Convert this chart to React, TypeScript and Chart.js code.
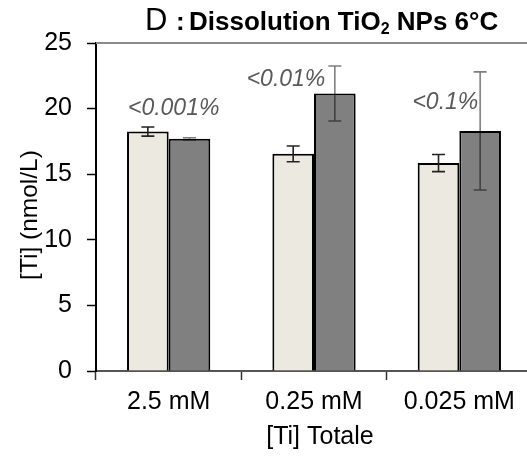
import React, { useEffect, useRef } from "react";
import { Chart, registerables } from "chart.js";

Chart.register(...registerables);

// ---- data ----
const categories = ["2.5 mM", "0.25 mM", "0.025 mM"];
const lightValues = [18.25, 16.55, 15.85];
const lightErrors = [0.35, 0.6, 0.65];
const darkValues = [17.7, 21.15, 18.3];
const darkErrors = [0.08, 2.1, 4.5];
const yTicks = [0, 5, 10, 15, 20, 25];
const annotations = ["<0.001%", "<0.01%", "<0.1%"];
const yTitle = "[Ti] (nmol/L)";
const xTitle = "[Ti] Totale";

const FONT = "'Liberation Sans', Arial, sans-serif";

// label anchors (layout): pixel x offset from category centre, y in value units (baseline)
const annotDx = [5, -28, -14];
const annotY = [19.55, 21.7, 20.0];

const errorBarPlugin = {
  id: "errorBars",
  afterDatasetsDraw(chart: any) {
    const ctx = chart.ctx;
    const y = chart.scales.y;
    const errs = [lightErrors, darkErrors];
    const vals = [lightValues, darkValues];
    const colors = ["#222222", "rgba(0,0,0,0.5)"];
    ctx.save();
    for (let d = 0; d < 2; d++) {
      const meta = chart.getDatasetMeta(d);
      meta.data.forEach((bar: any, i: number) => {
        const x = bar.x;
        const top = y.getPixelForValue(vals[d][i] + errs[d][i]);
        const bot = y.getPixelForValue(vals[d][i] - errs[d][i]);
        ctx.strokeStyle = colors[d];
        ctx.lineWidth = 1.6;
        ctx.beginPath();
        ctx.moveTo(x, top);
        ctx.lineTo(x, bot);
        ctx.moveTo(x - 6.5, top);
        ctx.lineTo(x + 6.5, top);
        ctx.moveTo(x - 6.5, bot);
        ctx.lineTo(x + 6.5, bot);
        ctx.stroke();
      });
    }
    ctx.restore();
  },
};

const decorPlugin = {
  id: "decor",
  afterDraw(chart: any) {
    const ctx = chart.ctx;
    const area = chart.chartArea;
    const xs = chart.scales.x;
    const ys = chart.scales.y;
    ctx.save();
    // top border
    ctx.strokeStyle = "#8c8c8c";
    ctx.lineWidth = 2;
    ctx.beginPath();
    ctx.moveTo(area.left, area.top);
    ctx.lineTo(chart.width, area.top);
    ctx.stroke();

    // annotations
    ctx.fillStyle = "#595959";
    ctx.font = `italic 23px ${FONT}`;
    ctx.textAlign = "center";
    ctx.textBaseline = "alphabetic";
    annotations.forEach((t, i) => {
      const x = xs.getPixelForValue(i) + annotDx[i];
      ctx.fillText(t, x, ys.getPixelForValue(annotY[i]));
    });

    // axis titles
    ctx.fillStyle = "#000";
    ctx.font = `25px ${FONT}`;
    ctx.textAlign = "center";
    ctx.textBaseline = "alphabetic";
    ctx.fillText(xTitle, 320, 444);
    ctx.save();
    ctx.translate(37, 215);
    ctx.rotate(-Math.PI / 2);
    ctx.font = `24.5px ${FONT}`;
    ctx.fillText(yTitle, 0, 0);
    ctx.restore();

    // title
    ctx.fillStyle = "#000";
    ctx.textAlign = "left";
    let x = 145;
    const base = 29.5;
    ctx.font = `normal 31px ${FONT}`;
    ctx.fillText("D", x, base);
    ctx.font = `bold 26px ${FONT}`;
    ctx.fillText(":", 176, base);
    x = 189;
    const p1 = "Dissolution TiO";
    ctx.fillText(p1, x, base);
    x += ctx.measureText(p1).width;
    ctx.font = `bold 16px ${FONT}`;
    ctx.fillText("2", x, base + 4.5);
    x += ctx.measureText("2").width;
    ctx.font = `bold 26px ${FONT}`;
    ctx.fillText(" NPs 6°C", x, base);
    ctx.restore();
  },
};

export default function App() {
  const ref = useRef<HTMLCanvasElement | null>(null);
  useEffect(() => {
    if (!ref.current) return;
    const chart = new Chart(ref.current, {
      type: "bar",
      data: {
        labels: categories,
        datasets: [
          {
            label: "A",
            data: lightValues,
            backgroundColor: "#ECEAE0",
            borderColor: "#000000",
            borderWidth: 2,
            barPercentage: 1,
            categoryPercentage: 0.573,
          },
          {
            label: "B",
            data: darkValues,
            backgroundColor: "#808080",
            borderColor: "#000000",
            borderWidth: 2,
            barPercentage: 1,
            categoryPercentage: 0.573,
          },
        ],
      },
      options: {
        responsive: false,
        animation: false,
        devicePixelRatio: 1,
        layout: { padding: { left: 0, top: 43, right: 8, bottom: 0 } },
        plugins: {
          legend: { display: false },
          tooltip: { enabled: false },
          title: { display: false },
        },
        scales: {
          x: {
            offset: true,
            grid: {
              offset: true,
              drawOnChartArea: false,
              drawTicks: true,
              tickLength: 9,
              tickColor: "#333333",
              tickWidth: 1.5,
            },
            border: { color: "#555555", width: 2 },
            ticks: {
              color: "#000",
              font: { family: FONT, size: 25 },
              padding: 7,
              maxRotation: 0,
            },
            title: { display: false, text: xTitle },
            afterFit(scale: any) {
              scale.height = 88;
            },
          },
          y: {
            min: 0,
            max: 25,
            afterBuildTicks(scale: any) {
              scale.ticks = yTicks.map((v) => ({ value: v }));
            },
            grid: {
              drawOnChartArea: false,
              drawTicks: true,
              tickLength: 9,
              tickColor: "#000",
              tickWidth: 1.5,
            },
            border: { color: "#000", width: 2 },
            ticks: {
              color: "#000",
              font: { family: FONT, size: 25 },
              padding: 15,
            },
            title: { display: false, text: yTitle },
            afterFit(scale: any) {
              scale.width = 96;
            },
          },
        },
      },
      plugins: [errorBarPlugin, decorPlugin],
    });
    return () => chart.destroy();
  }, []);

  return (
    <div
      style={{
        position: "fixed",
        left: 0,
        top: 0,
        width: 527,
        height: 459,
        overflow: "hidden",
        background: "#fff",
      }}
    >
      <canvas ref={ref} width={540} height={459} style={{ display: "block" }} />
    </div>
  );
}
